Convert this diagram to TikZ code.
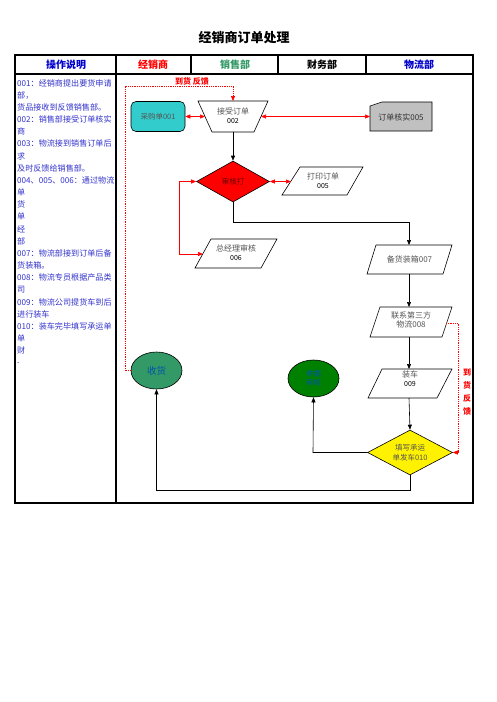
\documentclass[tikz,border=0pt]{standalone}
\usepackage{fontspec}
\setmainfont{Noto Sans CJK SC}
\usetikzlibrary{arrows.meta,shapes.geometric}
\definecolor{descblue}{HTML}{3333CC}
\definecolor{hdblue}{HTML}{0000CC}
\definecolor{hdgreen}{HTML}{339966}
\definecolor{lnred}{HTML}{FF0000}
\definecolor{tealfill}{HTML}{33CCCC}
\definecolor{seagreen}{HTML}{339966}
\definecolor{dkgreen}{HTML}{008000}
\definecolor{cardgray}{HTML}{C0C0C0}
\definecolor{txtgray}{HTML}{555555}
\definecolor{ovaltxt}{HTML}{0055AA}
\tikzset{
  frame/.style={line width=1.1pt},
  shapebox/.style={draw=black, line width=0.6pt},
  lbl/.style={inner sep=0pt, align=center, font=\fontsize{8}{10}\selectfont, text=txtgray},
  desc/.style={anchor=west, inner sep=0pt, font=\fontsize{8.1}{10}\selectfont, text=descblue},
  hdr/.style={inner sep=0pt, font=\fontsize{10}{12}\selectfont\bfseries},
  blk/.style={draw=black, line width=0.6pt, -{Triangle[length=5pt,width=4pt]}},
  redar/.style={draw=lnred, line width=0.6pt, -{Triangle[length=5pt,width=4pt]}},
  redbi/.style={draw=lnred, line width=0.6pt, {Triangle[length=5pt,width=4pt]}-{Triangle[length=5pt,width=4pt]}},
  reddot/.style={draw=lnred, line width=0.8pt, densely dotted},
  redlbl/.style={inner sep=0pt, text=lnred, font=\fontsize{8}{10}\selectfont\bfseries},
  oval/.style={shape=ellipse, draw=black, line width=0.6pt, inner sep=0pt, minimum width=51pt, minimum height=37pt, text=ovaltxt, align=center},
  dia/.style={shape=diamond, draw=black, line width=0.6pt, inner sep=0pt, align=center}
}
\begin{document}
\begin{tikzpicture}[x=1pt,y=-1pt]
\useasboundingbox (0,0) rectangle (496,702);
\fill[white] (0,0) rectangle (496,702);

% title
\node[inner sep=0pt, font=\fontsize{13}{15}\selectfont\bfseries] (title) at (244,38) {经销商订单处理};

% table
\draw[frame] (15,55) rectangle (473,503);
\draw[frame] (15,74) -- (473,74);
\draw[frame] (116,55) -- (116,503);
\draw[frame] (191,55) -- (191,74);
\draw[frame] (278,55) -- (278,74);
\draw[frame] (366,55) -- (366,74);

\node[hdr, text=hdblue] (h1) at (66,64.5) {操作说明};
\node[hdr, text=lnred] (h2) at (153,64.5) {经销商};
\node[hdr, text=hdgreen] (h3) at (235,64.5) {销售部};
\node[hdr, text=black] (h4) at (322,64.5) {财务部};
\node[hdr, text=hdblue] (h5) at (419,64.5) {物流部};

% description column
\foreach \t [count=\i from 0] in {001：经销商提出要货申请,部，,货品接收到反馈销售部。,002：销售部接受订单核实,商,003：物流接到销售订单后,求,及时反馈给销售部。,004、005、006：通过物流,单,货,单,经,部,007：物流部接到订单后备,货装箱。,008：物流专员根据产品类,司,009：物流公司提货车到后,进行装车,010：装车完毕填写承运单,单,财,.}
  \node[desc] (d\i) at (17,{83+12.17*\i}) {\t};

% shapes
\node[draw=black, line width=0.6pt, fill=tealfill, rounded corners=5pt, minimum width=54pt, minimum height=30pt, inner sep=0pt, font=\fontsize{7.5}{9}\selectfont, text=txtgray] (buy) at (158,116.5) {采购单001};

\draw[shapebox, fill=white] (198,101) -- (268,101) -- (254,132) -- (212,132) -- cycle;
\node[lbl] (accept) at (233,116) {接受订单\\[-1pt]{\color{black}\fontsize{7}{8}\selectfont 002}};
\coordinate (acceptT) at (233,101);
\coordinate (acceptB) at (233,132);
\coordinate (acceptL) at (205,116.5);
\coordinate (acceptR) at (261,116.5);

\draw[shapebox, fill=cardgray] (370,106) -- (382,102) -- (432,102) -- (432,131) -- (370,131) -- cycle;
\node[lbl, text=black!80] (check) at (401,117) {订单核实005};
\coordinate (checkL) at (370,116.5);

\node[dia, fill=lnred, minimum width=73pt, minimum height=41pt, aspect=1.8, font=\fontsize{7.5}{9}\selectfont, text=black!60!red] (judge) at (233,181.5) {审核打};

\draw[shapebox, fill=white] (300,167) -- (363,167) -- (347,195) -- (282,195) -- cycle;
\node[lbl] (print) at (323,180.5) {打印订单\\[-1pt]{\color{black}\fontsize{7}{8}\selectfont 005}};
\coordinate (printL) at (291,181.5);

\draw[shapebox, fill=white] (211,239) -- (277,239) -- (261,268) -- (195,268) -- cycle;
\node[lbl] (gm) at (236,253) {总经理审核\\[-1pt]{\color{black}\fontsize{7}{8}\selectfont 006}};
\coordinate (gmL) at (203,254);

\draw[shapebox, fill=white] (376,245) -- (452,245) -- (443,274) -- (367,274) -- cycle;
\node[lbl] (pack) at (409.5,259.5) {备货装箱007};
\coordinate (packT) at (409,245);
\coordinate (packB) at (409,274);

\draw[shapebox, fill=white] (380,307) -- (452,307) -- (442,337) -- (370,337) -- cycle;
\node[lbl] (contact) at (411,320) {联系第三方\\[-1pt]物流008};
\coordinate (contactT) at (409,307);
\coordinate (contactB) at (409,337);
\coordinate (contactR) at (446,323);

\draw[shapebox, fill=white] (382,369) -- (452,369) -- (437,398) -- (368,398) -- cycle;
\node[lbl] (load) at (410,379) {装车\\[-1pt]{\color{black}\fontsize{7}{8}\selectfont 009}};
\coordinate (loadT) at (409,369);
\coordinate (loadB) at (409,398);

\node[dia, fill=yellow, minimum width=85pt, minimum height=45pt, aspect=2, font=\fontsize{7.5}{9.5}\selectfont, text=txtgray] (ship) at (410,452.5) {填写承运\\单发车010};

\node[oval, fill=seagreen, font=\fontsize{9.5}{11}\selectfont] (recv) at (156.5,370.5) {收货};
\node[oval, fill=dkgreen, font=\fontsize{7.5}{9}\selectfont] (audit) at (313.5,378.5) {单据\\审核};

% connectors
\draw[redbi] (buy.east) -- (acceptL);
\draw[redbi] (checkL) -- (acceptR);
\draw[blk] (acceptB) -- (judge.north);
\draw[redbi] (judge.east) -- (printL);
\draw[blk] (judge.south) -- (233,222) -- (409,222) -- (packT);
\draw[redbi] (judge.west) -- (179,181.5) -- (179,254) -- (gmL);
\draw[blk] (packB) -- (contactT);
\draw[blk] (contactB) -- (loadT);
\draw[blk] (loadB) -- (ship.north);
\draw[blk] (ship.west) -- (313,452.5) -- (audit.south);
\draw[blk] (ship.south) -- (410,490) -- (156.5,490) -- (recv.south);

% feedback dotted lines
\draw[reddot] (recv.west) -- (125,370.5) -- (125,86) -- (233,86) -- (233,97);
\draw[redar] (233,95) -- (acceptT);
\node[redlbl] (fb1) at (192,81) {到货 反馈};

\draw[reddot] (contactR) -- (458,323) -- (458,452.5) -- (456,452.5);
\draw[redar] (458,452.5) -- (ship.east);
\node[redlbl, align=center, font=\fontsize{8}{13}\selectfont\bfseries] (fb2) at (467,392.5) {到\\货\\反\\馈};

\end{tikzpicture}
\end{document}
